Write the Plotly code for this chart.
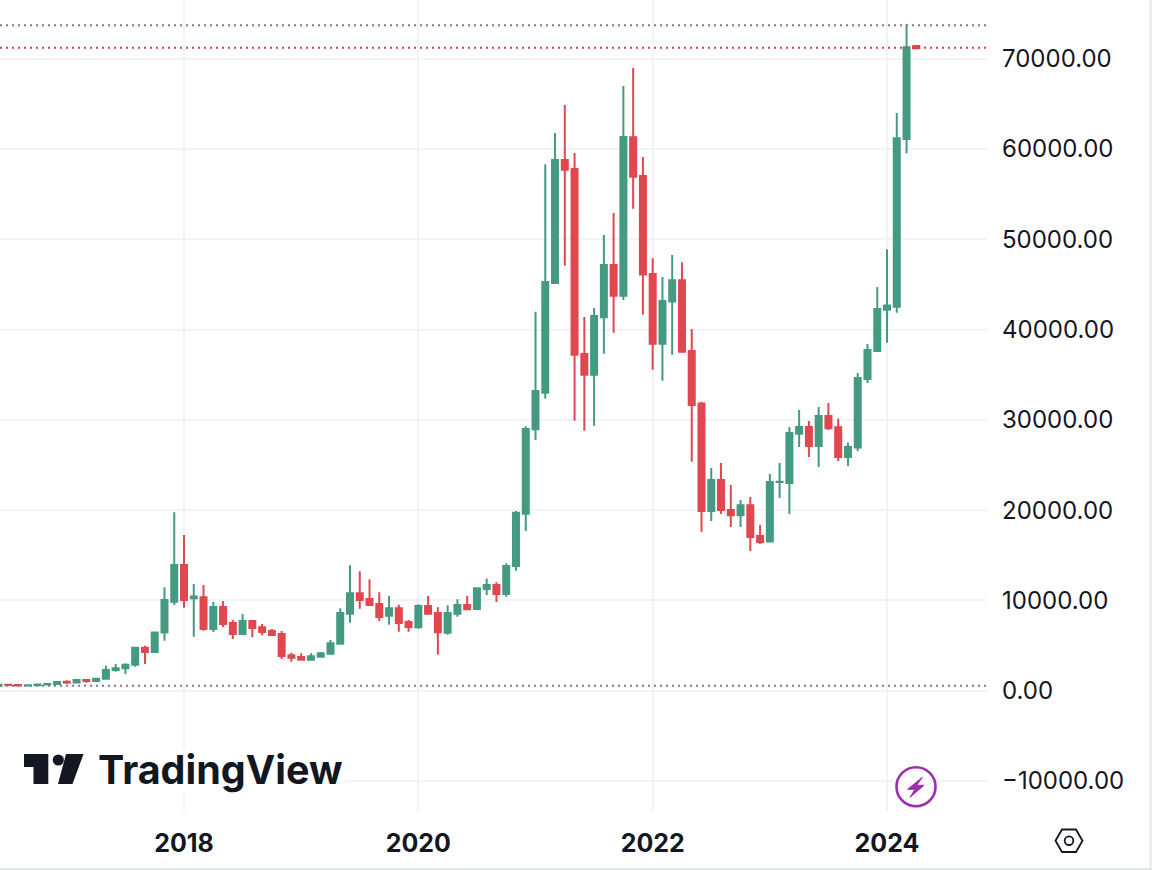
import plotly.graph_objects as go

months = [f"{y}-{m:02d}" for y in range(2016, 2025) for m in range(1, 13)]
months = months[months.index("2016-06"):months.index("2024-04") + 1]

opens = [530, 670, 624, 575, 610, 700, 745, 1000, 920, 1190, 1080, 1330, 2300, 2480, 2870, 4760, 4300, 6440, 9860,
         13920, 10250, 10340, 6830, 9270, 7490, 6280, 7730, 7030, 6620, 6290, 3920,
         3730, 3420, 3770, 4100, 5210, 8530, 10790, 10150, 9600, 8290, 9130, 7600,
         7020, 9380, 8610, 6420, 8530, 9490, 9050, 11270, 11710, 10710, 13810, 19600,
         28950, 33000, 45150, 58770, 57770, 37290, 35000, 41370, 47140, 43740, 61280, 56990,
         46140, 38430, 43090, 45460, 37620, 31820, 19900, 23330, 20010, 19420, 20530, 17130,
         16520, 23120, 23000, 28470, 29210, 27100, 30420, 29180, 25880, 26940, 34520, 37620,
         42200, 42520, 61090, 71400]
closes = [670, 624, 575, 610, 700, 745, 960, 920, 1190, 1080, 1330, 2290, 2480, 2870, 4760, 4280, 6440, 10050, 13920,
          10040, 10420, 6830, 9270, 7390, 6280, 7730, 6950, 6500, 6180, 3840, 3650,
          3420, 3810, 4140, 5250, 8600, 10790, 10040, 9490, 8160, 9130, 7500, 7050,
          9380, 8530, 6470, 8610, 9490, 9010, 11340, 11710, 10710, 13810, 19700, 28980,
          33190, 45260, 58760, 57690, 37210, 35000, 41500, 47140, 43740, 61310, 56920, 46080,
          38430, 43160, 45460, 37540, 31640, 19900, 23330, 20010, 19420, 20530, 17020, 16470,
          23110, 23140, 28540, 29210, 27100, 30420, 29060, 25880, 26990, 34630, 37730, 42270,
          42650, 61170, 71260, 71150]
highs = [780, 700, 640, 620, 650, 750, 980, 1150, 1210, 1300, 1350, 2770, 2960, 3030, 4870, 4980, 6440, 11450, 19760,
         17240, 11820, 11700, 9820, 9930, 7830, 8490, 7730, 7400, 6830, 6600, 4210,
         4140, 4140, 4280, 5610, 9120, 13890, 13220, 12340, 10900, 10480, 9530, 7830,
         9570, 10490, 9240, 9460, 10120, 10490, 11440, 12440, 12010, 14110, 19900, 29280,
         41970, 58300, 61760, 64860, 59550, 41380, 42380, 50460, 52900, 66970, 68960, 59100,
         47880, 45820, 48240, 47460, 40060, 32000, 24660, 25210, 22780, 21120, 21450, 18360,
         24000, 25210, 29200, 31090, 29860, 31420, 31860, 30150, 27500, 35180, 38390, 44700,
         48880, 63970, 73800, 71400]
lows = [530, 620, 520, 570, 600, 680, 740, 750, 910, 890, 1070, 1330, 2100, 1850, 2660, 2960, 4210, 5540, 9490,
        9190, 5980, 6640, 6500, 7060, 5730, 6130, 5950, 6150, 6060, 3510, 3210,
        3320, 3320, 3680, 4050, 5160, 7530, 9080, 9410, 7720, 7310, 6530, 6530,
        6860, 8510, 3990, 6200, 8190, 8940, 9050, 10600, 9820, 10410, 13290, 17700,
        27770, 32340, 45070, 47060, 29900, 28800, 29350, 37320, 39640, 43270, 53370, 41640,
        35550, 34320, 37210, 37540, 25360, 17610, 18790, 19570, 18130, 18130, 15470, 16250,
        16500, 21340, 19570, 26990, 25880, 24770, 28860, 25440, 24880, 26540, 34070, 37620,
        38540, 41860, 59510, 71100]

year_labels = ["2018", "2020", "2022", "2024"]
y_ticks = [-10000, 0, 10000, 20000, 30000, 40000, 50000, 60000, 70000]
peak_level = 73700
last_level = 71200
floor_level = 550

GREEN = "#459a82"
RED = "#e0474f"
GRID = "#f1f3f7"
INK = "#131722"

x = list(range(len(months)))
x_ticks = [months.index(y + "-01") for y in year_labels]

PW, PH = 987, 811


def px(v):
    return v / PW


def py(v):
    return 1 - v / PH


def path(points):
    return "M" + "L".join(f"{px(a):.5f},{py(b):.5f}" for a, b in points) + "Z"


def shape_path(points, **kw):
    return dict(type="path", xref="paper", yref="paper", path=path(points), **kw)


def circle(cx, cy, r, **kw):
    return dict(type="circle", xref="paper", yref="paper", x0=px(cx - r), x1=px(cx + r),
                y0=py(cy + r), y1=py(cy - r), **kw)


fig = go.Figure(go.Candlestick(
    x=x, open=opens, high=highs, low=lows, close=closes,
    whiskerwidth=0,
    increasing=dict(line=dict(color=GREEN, width=2), fillcolor=GREEN),
    decreasing=dict(line=dict(color=RED, width=2), fillcolor=RED),
    showlegend=False,
))

shapes = []
for level, colour in [(peak_level, "#7d7f86"), (last_level, "#d8404c"), (floor_level, "#7d7f86")]:
    shapes.append(dict(type="line", xref="paper", yref="y", x0=0, x1=1, y0=level, y1=level,
                       layer="above", line=dict(color=colour, width=2, dash="2px,4px")))

nl = dict(width=0)
shapes.append(dict(type="rect", xref="paper", yref="paper", x0=px(0), x1=px(345), y0=py(792),
                   y1=py(748), fillcolor="white", line=nl, layer="above"))
shapes.append(shape_path([(24, 754), (48.3, 754), (48.3, 784), (33.5, 784), (33.5, 767), (24, 767)],
                         fillcolor=INK, line=nl, layer="above"))
shapes.append(circle(58.3, 760, 5.6, fillcolor=INK, line=nl, layer="above"))
shapes.append(shape_path([(66, 754), (83.5, 754), (72.5, 784), (58, 784)],
                         fillcolor=INK, line=nl, layer="above"))
shapes.append(circle(916, 786.7, 19.5, fillcolor="white", line=dict(color="#9c2fae", width=2.6), layer="above"))
shapes.append(shape_path([(922.3, 777.3), (907.7, 789.3), (915, 789.3), (910, 797.3), (924, 785.3), (916.7, 785.3)],
                         fillcolor="#9c2fae", line=dict(color="#9c2fae", width=1), layer="above"))
shapes.append(shape_path([(1055.5, 840.7), (1062, 829.5), (1076, 829.5), (1082.5, 840.7), (1076, 852), (1062, 852)],
                         fillcolor="rgba(0,0,0,0)", line=dict(color=INK, width=1.8), layer="above"))
shapes.append(circle(1069, 840.7, 4.3, fillcolor="rgba(0,0,0,0)", line=dict(color=INK, width=1.8), layer="above"))
shapes.append(dict(type="line", xref="paper", yref="paper", x0=px(1150.5), x1=px(1150.5), y0=py(0), y1=py(870),
                   line=dict(color="#e3e5ec", width=2), layer="above"))
shapes.append(dict(type="line", xref="paper", yref="paper", x0=px(0), x1=px(1152), y0=py(869), y1=py(869),
                   line=dict(color="#e3e5ec", width=2), layer="above"))

fig.update_layout(
    width=1152, height=870,
    margin=dict(l=0, r=165, t=0, b=59, pad=0),
    paper_bgcolor="white", plot_bgcolor="white",
    boxgap=0.385, boxgroupgap=0,
    showlegend=False,
    shapes=shapes,
    annotations=[dict(text="TradingView", xref="paper", yref="paper", x=px(96), y=py(770),
                      xanchor="left", yanchor="middle", showarrow=False,
                      font=dict(family="Inter", size=39.5, color=INK, weight=700))],
    xaxis=dict(range=[0.155, 101.24], rangeslider=dict(visible=False), tickmode="array",
               tickvals=x_ticks, ticktext=year_labels, showgrid=True, gridcolor=GRID, gridwidth=2,
               zeroline=False, showline=False, ticks="", ticklabelstandoff=15,
               tickfont=dict(family="Inter", size=25, color=INK, weight=700)),
    yaxis=dict(range=[-13320, 76490], side="right", tickmode="array", tickvals=y_ticks,
               tickformat=".2f", showgrid=True, gridcolor=GRID, gridwidth=2, zeroline=False,
               showline=False, ticks="", ticklabelstandoff=14,
               tickfont=dict(family="Inter", size=24, color=INK)),
)
fig.write_html("out.html", config=dict(displayModeBar=False),
               post_script="document.body.style.margin='0';")
